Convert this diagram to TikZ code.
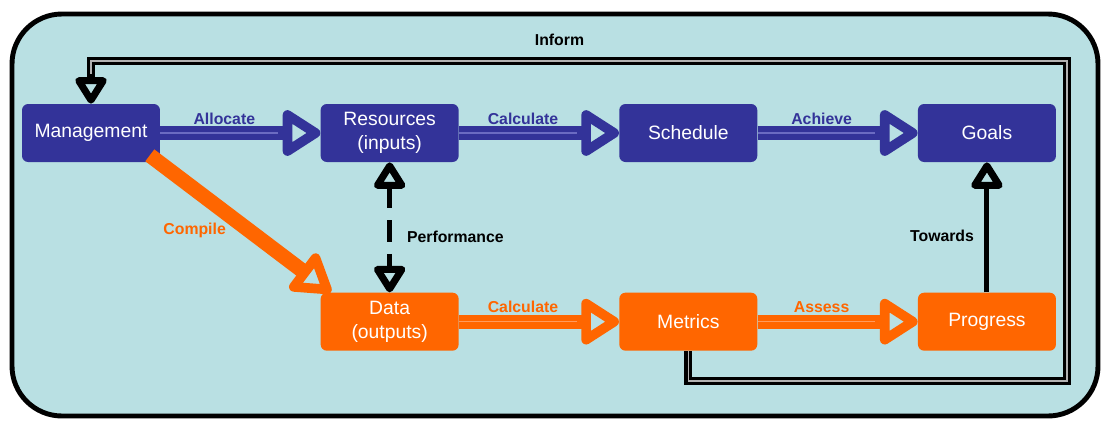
\documentclass[tikz,border=0pt]{standalone}
\usepackage{fontspec}
\setmainfont{Liberation Sans}
\usetikzlibrary{arrows.meta, positioning, calc}

\definecolor{navy}{HTML}{333399}
\definecolor{navylt}{HTML}{6B6BC2}
\definecolor{tang}{HTML}{FF6600}
\definecolor{tanglt}{HTML}{FF9A5C}
\definecolor{pale}{HTML}{B9E0E3}

\tikzset{
  box/.style={rectangle, rounded corners=3.5pt, minimum width=2.76cm, minimum height=1.16cm,
    inner sep=1pt, align=center, text=white, font=\fontsize{11}{13.6}\selectfont},
  bluebox/.style={box, fill=navy},
  orangebox/.style={box, fill=tang},
  bigtip/.tip={Triangle[open, length=24pt, width=29pt, line width=5.5pt, round]},
  smalltip/.tip={Triangle[open, length=17pt, width=20pt, line width=4pt, round]},
  blueflow/.style={draw=navy, line width=7.9pt, -bigtip,
    postaction={draw=navylt, line width=0.6pt, -, shorten >=24pt}},
  orangeflow/.style={draw=tang, line width=7.9pt, -bigtip,
    postaction={draw=tanglt, line width=0.6pt, -, shorten >=24pt}},
  lbl/.style={font=\fontsize{9}{11}\selectfont\bfseries, inner sep=0pt}
}

\begin{document}
\begin{tikzpicture}[x=0.02cm, y=-0.02cm]
  \useasboundingbox (0,0) rectangle (1101,420);
  % --- frame ---
  \draw[line width=2.8pt, fill=pale, rounded corners=1cm] (12,14) rectangle (1098,416);

  % --- top row ---
  \node[bluebox] (man) at (91,133) {Management};
  \node[bluebox, right=3.2cm of man] (res) {Resources\\(inputs)};
  \node[bluebox, right=3.2cm of res] (sch) {Schedule};
  \node[bluebox, right=3.2cm of sch] (gol) {Goals};

  % --- bottom row ---
  \node[orangebox, below=2.6cm of res] (dat) {Data\\(outputs)};
  \node[orangebox, right=3.2cm of dat] (met) {Metrics};
  \node[orangebox, right=3.2cm of met] (prg) {Progress};

  % --- flows ---
  \draw[blueflow] (man) -- node[lbl, text=navy, pos=0.4, above=1pt] {Allocate} (res);
  \draw[blueflow] (res) -- node[lbl, text=navy, pos=0.4, above=1pt] {Calculate} (sch);
  \draw[blueflow] (sch) -- node[lbl, text=navy, pos=0.4, above=1pt] {Achieve} (gol);
  \draw[orangeflow] (dat) -- node[lbl, text=tang, pos=0.4, above=1pt] {Calculate} (met);
  \draw[orangeflow] (met) -- node[lbl, text=tang, pos=0.4, above=1pt] {Assess} (prg);
  \draw[tang, line width=8.5pt, -bigtip] ([xshift=-6pt,yshift=4pt]man.south east)
    -- node[lbl, text=tang, midway, left=4pt, yshift=-3.5pt] {Compile} ([xshift=6pt]dat.north west);

  % --- black links ---
  \draw[line width=2.8pt, dash pattern=on 12pt off 7pt, smalltip-smalltip] (res)
    -- node[lbl, right=8.5pt, yshift=-5.5pt] {Performance} (dat);
  \draw[line width=2.8pt, -smalltip] (prg)
    -- node[lbl, left=6pt, yshift=-5pt] {Towards} (gol);

  % --- inform loop ---
  \coordinate (lowr) at (1067,381);
  \coordinate (topr) at (1067,61);
  \draw[line width=4.5pt, -smalltip, postaction={draw=gray!60, line width=0.7pt, -, shorten >=17pt}]
    (met.south) |- (lowr) -- (topr) -| node[lbl, pos=0.26, above=6.5pt] {Inform} (man.north);
\end{tikzpicture}
\end{document}
